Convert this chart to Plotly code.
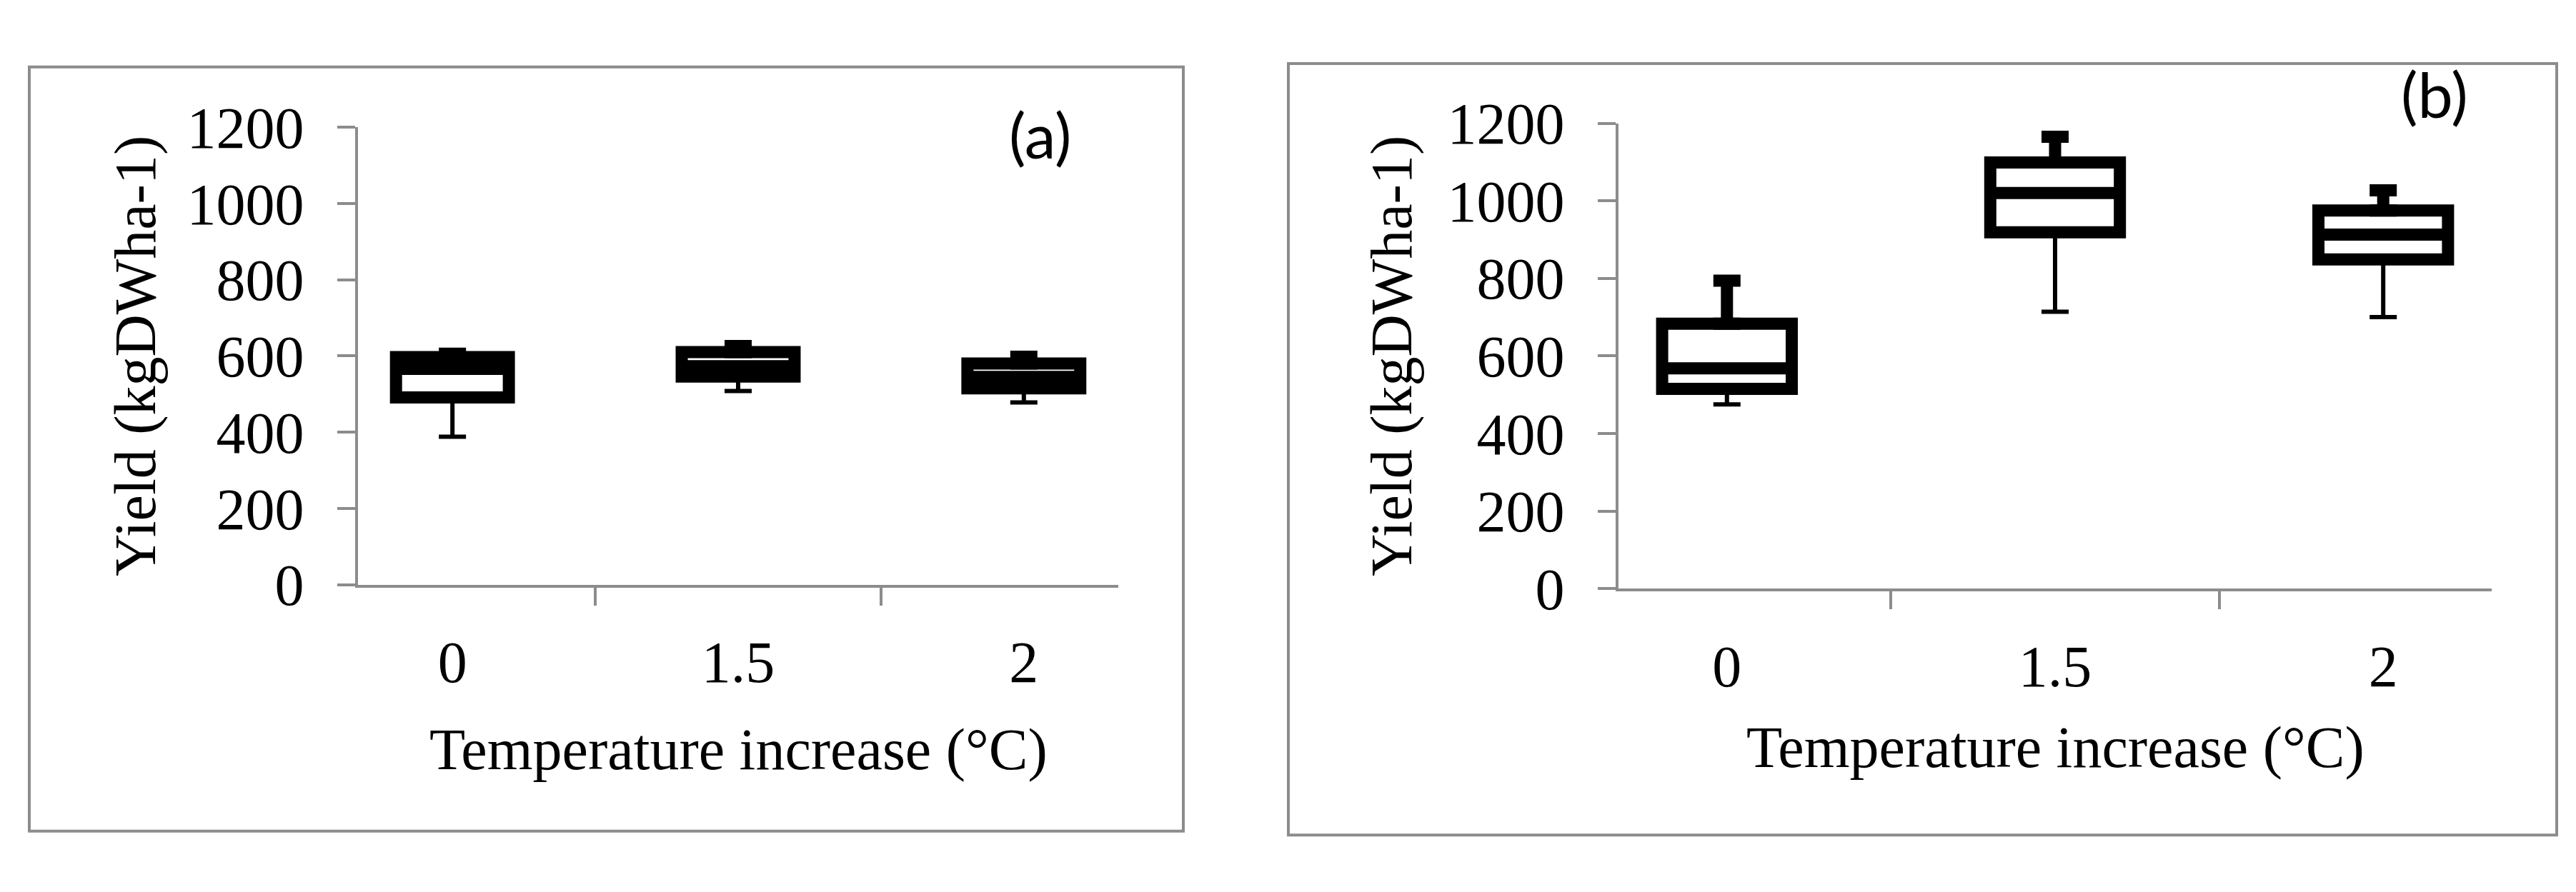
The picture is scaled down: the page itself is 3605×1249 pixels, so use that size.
import plotly.graph_objects as go

W, H = 3605, 1249

# temperature increase categories
temps = ["0", "1.5", "2"]

# panel (a) box statistics, kgDW ha-1
a_min = [388, 508, 478]
a_q1 = [491, 546, 515]
a_median = [566, 573, 545]
a_q3 = [597, 610, 580]
a_max = [606, 626, 598]

# panel (b) box statistics, kgDW ha-1
b_min = [475, 714, 700]
b_q1 = [515, 919, 849]
b_median = [568, 1020, 913]
b_q3 = [683, 1099, 975]
b_max = [794, 1165, 1027]

y_ticks = [0, 200, 400, 600, 800, 1000, 1200]

GRAY = "#8c8c8c"
SERIF = "Liberation Serif"


def add_panel(fig, xref, yref, q_min, q1, med, q3, q_max):
    # box body (no whiskers, they are drawn as error bars with caps)
    fig.add_trace(go.Box(
        x=temps, q1=q1, median=med, q3=q3,
        lowerfence=q1, upperfence=q3,
        width=0.395, whiskerwidth=0, boxpoints=False,
        line=dict(color="black", width=17),
        fillcolor="white", showlegend=False, hoverinfo="skip",
        xaxis=xref, yaxis=yref,
    ))
    # upper whisker: thick
    fig.add_trace(go.Scatter(
        x=temps, y=q3, mode="markers",
        marker=dict(size=1, color="rgba(0,0,0,0)"),
        error_y=dict(type="data", symmetric=False,
                     array=[hi - q for hi, q in zip(q_max, q3)],
                     arrayminus=[0] * len(q3),
                     color="black", thickness=17, width=19),
        showlegend=False, hoverinfo="skip", xaxis=xref, yaxis=yref,
    ))
    # lower whisker: thin
    fig.add_trace(go.Scatter(
        x=temps, y=q1, mode="markers",
        marker=dict(size=1, color="rgba(0,0,0,0)"),
        error_y=dict(type="data", symmetric=False,
                     array=[0] * len(q1),
                     arrayminus=[q - lo for q, lo in zip(q1, q_min)],
                     color="black", thickness=6, width=19),
        showlegend=False, hoverinfo="skip", xaxis=xref, yaxis=yref,
    ))


def main():
    fig = go.Figure()
    add_panel(fig, "x", "y", a_min, a_q1, a_median, a_q3, a_max)
    add_panel(fig, "x2", "y2", b_min, b_q1, b_median, b_q3, b_max)

    xstyle = dict(type="category", categoryorder="array", categoryarray=temps,
                  tickson="boundaries", ticks="outside", ticklen=25, tickwidth=4,
                  tickcolor=GRAY, showline=True, linecolor=GRAY, linewidth=4,
                  showgrid=False, zeroline=False, ticklabelstandoff=34,
                  tickfont=dict(family=SERIF, size=82, color="black"))
    ystyle = dict(range=[0, 1200], tickvals=y_ticks, ticks="outside", ticklen=25,
                  tickwidth=4, tickcolor=GRAY, showline=True, linecolor=GRAY,
                  linewidth=4, showgrid=False, zeroline=False, ticklabelstandoff=30,
                  tickfont=dict(family=SERIF, size=82, color="black"))

    fig.update_layout(
        width=W, height=H,
        margin=dict(l=0, r=0, t=0, b=0),
        paper_bgcolor="white", plot_bgcolor="white",
        xaxis=dict(domain=[493 / W, 1557 / W], anchor="y", **xstyle),
        yaxis=dict(domain=[1 - 827 / H, 1 - 136 / H], anchor="x", **ystyle),
        xaxis2=dict(domain=[2257 / W, 3479 / W], anchor="y2", **xstyle),
        yaxis2=dict(domain=[1 - 833 / H, 1 - 130 / H], anchor="x2", **ystyle),
    )

    # panel frames
    for x0, y0, x1, y1 in [(33, 45, 1648, 1199), (1795, 40, 3570, 1205)]:
        fig.add_shape(type="rect", xref="paper", yref="paper",
                      x0=x0 / W, x1=x1 / W, y0=1 - y1 / H, y1=1 - y0 / H,
                      line=dict(color=GRAY, width=4), fillcolor="rgba(0,0,0,0)")

    title_font = dict(family=SERIF, size=82, color="black")
    # axis titles
    for cx, cy in [(1025, 1076), (2868, 1073)]:
        fig.add_annotation(x=cx / W, y=1 - cy / H, xref="paper", yref="paper",
                           text="Temperature increase (°C)", showarrow=False,
                           font=title_font, xanchor="center", yanchor="middle")
    for cx, cy in [(182, 482), (1940, 482)]:
        fig.add_annotation(x=cx / W, y=1 - cy / H, xref="paper", yref="paper",
                           text="Yield (kgDWha-1)", showarrow=False, textangle=-90,
                           font=title_font, xanchor="center", yanchor="middle")

    # panel letters
    for lab, cx, cy in [("(a)", 1448, 147), ("(b)", 3399, 85)]:
        fig.add_annotation(x=cx / W, y=1 - cy / H, xref="paper", yref="paper",
                           text=lab, showarrow=False,
                           font=dict(family="Lato", size=88, color="black"),
                           xanchor="center", yanchor="middle")

    fig.write_html("out.html")


if __name__ == "__main__":
    main()
